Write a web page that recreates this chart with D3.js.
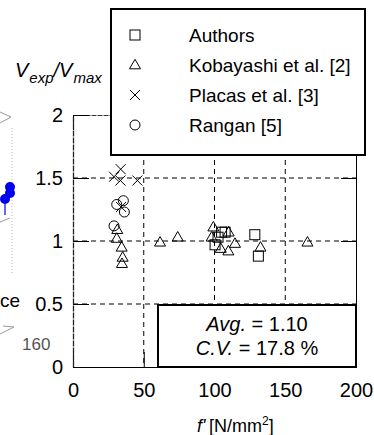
<!DOCTYPE html>
<html><head><meta charset="utf-8">
<script src="https://cdn.jsdelivr.net/npm/d3@7"></script>
<style>
html,body{margin:0;padding:0;background:#fff;}
svg{display:block;font-family:"Liberation Sans",Arial,sans-serif;}
</style></head>
<body>
<svg id="c" width="374" height="435"></svg>
<script>
// ---- data ----
const seriesNames = ["Authors", "Kobayashi et al. [2]", "Placas et al. [3]", "Rangan [5]"];
const seriesShapes = ["square", "triangle", "cross", "circle"];
const authorsF = [100.4, 102.5, 105.0, 107.5, 128.5, 131.0];
const authorsV = [0.97, 1.03, 1.07, 1.07, 1.05, 0.88];
const kobayashiF = [31.3, 30.9, 34.4, 35.1, 34.6, 61.5, 74.0, 99.2, 98.0, 104.4, 109.8, 114.5, 110.0, 132.5, 165.7];
const kobayashiV = [1.09, 1.02, 0.95, 0.87, 0.82, 0.99, 1.03, 1.11, 1.03, 0.94, 0.92, 0.98, 1.07, 0.95, 0.99];
const placasF = [33.7, 29.0, 33.5, 45.5, 34.0];
const placasV = [1.57, 1.51, 1.48, 1.48, 1.27];
const ranganF = [30.9, 35.6, 36.3, 29.0];
const ranganV = [1.29, 1.32, 1.23, 1.12];
const xTicks = [0, 50, 100, 150, 200];
const yTicks = [0, 0.5, 1, 1.5, 2];
const yTickLabels = ["0", "0.5", "1", "1.5", "2"];
const statsAvg = "1.10";
const statsCV = "17.8 %";

const series = [
  {f: authorsF, v: authorsV},
  {f: kobayashiF, v: kobayashiV},
  {f: placasF, v: placasV},
  {f: ranganF, v: ranganV}
];

// ---- layout ----
const svg = d3.select("#c");
const L = 73, R = 356, T = 115, B = 367;
const x = d3.scaleLinear().domain([0, 200]).range([L, R]);
const y = d3.scaleLinear().domain([0, 2]).range([B, T]);

// ---- fragments of neighbouring figure on the left ----
const frag = svg.append("g");
frag.append("line").attr("x1", 12).attr("x2", 12).attr("y1", 128).attr("y2", 275)
  .attr("stroke", "#bbb").attr("stroke-dasharray", "1,2");
frag.append("path").attr("d", "M0,112 L11,117 L0,123").attr("fill", "none").attr("stroke", "#999");
frag.append("path").attr("d", "M0,222 L10,218").attr("fill", "none").attr("stroke", "#999");
frag.append("line").attr("x1", 5).attr("x2", 5).attr("y1", 200).attr("y2", 215)
  .attr("stroke", "#66f").attr("stroke-width", 2);
[[10, 187], [10, 193], [5, 199]].forEach(p => frag.append("circle").attr("cx", p[0]).attr("cy", p[1]).attr("r", 5).attr("fill", "#0000ee"));
frag.append("path").attr("d", "M0,334 L14,327 L3,326").attr("fill", "none").attr("stroke", "#999");
frag.append("text").attr("x", 0).attr("y", 307).attr("font-size", 19).attr("fill", "#000").text("ce");
frag.append("text").attr("x", 22).attr("y", 350).attr("font-size", 17).attr("fill", "#555").text("160");

// ---- grid ----
const grid = svg.append("g");
grid.selectAll(".gy").data(yTicks.filter(t => t > 0 && t < 2)).enter().append("line")
  .attr("x1", L).attr("x2", R).attr("y1", d => y(d)).attr("y2", d => y(d))
  .attr("stroke", "#000").attr("stroke-dasharray", "5,4");
grid.selectAll(".gx").data(xTicks.filter(t => t > 0 && t < 200)).enter().append("line")
  .attr("y1", T).attr("y2", B).attr("x1", d => x(d)).attr("x2", d => x(d))
  .attr("stroke", "#000").attr("stroke-dasharray", "5,4");

// ---- axes ----
const fs = 20;
const xAxis = svg.append("g").attr("transform", `translate(0,${B})`)
  .call(d3.axisBottom(x).tickValues(xTicks).tickFormat(d3.format("d")).tickSizeInner(-15).tickSizeOuter(0).tickPadding(16));
const xAxisTop = svg.append("g").attr("transform", `translate(0,${T})`)
  .call(d3.axisTop(x).tickValues(xTicks).tickSizeInner(-15).tickSizeOuter(0).tickFormat(""));
const yAxis = svg.append("g").attr("transform", `translate(${L},0)`)
  .call(d3.axisLeft(y).tickValues(yTicks).tickFormat((d, i) => yTickLabels[i]).tickSizeInner(-16).tickSizeOuter(0).tickPadding(10));
const yAxisR = svg.append("g").attr("transform", `translate(${R},0)`)
  .call(d3.axisRight(y).tickValues(yTicks).tickSizeInner(-15).tickSizeOuter(0).tickFormat(""));
[xAxis, xAxisTop, yAxis, yAxisR].forEach(g => {
  g.selectAll("text").attr("font-size", fs).attr("font-family", '"Liberation Sans",Arial,sans-serif').attr("fill", "#000");
  g.selectAll("line").attr("stroke", "#000");
  g.select(".domain").attr("stroke", "#000");
});
xAxisTop.select(".domain").attr("stroke", "#333").attr("stroke-dasharray", "5,1");
yAxis.select(".domain").attr("stroke", "#222").attr("stroke-width", 1.3).attr("stroke-dasharray", "6,1");

// ---- markers ----
const S = 10;
function drawMarker(g, shape, cx, cy) {
  if (shape === "square") {
    g.append("rect").attr("x", cx - S / 2).attr("y", cy - S / 2).attr("width", S).attr("height", S)
      .attr("fill", "none").attr("stroke", "#000");
  } else if (shape === "triangle") {
    const h = 9.5, w = 11;
    g.append("path").attr("d", `M${cx},${cy - h * 0.6} L${cx + w / 2},${cy + h * 0.4} L${cx - w / 2},${cy + h * 0.4} Z`)
      .attr("fill", "none").attr("stroke", "#000");
  } else if (shape === "cross") {
    const a = 5;
    g.append("path").attr("d", `M${cx - a},${cy - a} L${cx + a},${cy + a} M${cx - a},${cy + a} L${cx + a},${cy - a}`)
      .attr("fill", "none").attr("stroke", "#000");
  } else {
    g.append("circle").attr("cx", cx).attr("cy", cy).attr("r", 5).attr("fill", "none").attr("stroke", "#000");
  }
}
const pts = svg.append("g");
series.forEach((s, i) => {
  s.f.forEach((fv, j) => drawMarker(pts, seriesShapes[i], x(fv), y(s.v[j])));
});

// ---- stats box ----
const sb = svg.append("g");
sb.append("rect").attr("x", 158).attr("y", y(0.5) + 1).attr("width", R - 158).attr("height", B - y(0.5) - 1)
  .attr("fill", "#fff").attr("stroke", "#000").attr("stroke-width", 2);
const t1 = sb.append("text").attr("x", 257).attr("y", 331).attr("text-anchor", "middle").attr("font-size", 20);
t1.append("tspan").attr("font-style", "italic").text("Avg.");
t1.append("tspan").text(" = " + statsAvg);
const t2 = sb.append("text").attr("x", 257).attr("y", 355).attr("text-anchor", "middle").attr("font-size", 20);
t2.append("tspan").attr("font-style", "italic").text("C.V.");
t2.append("tspan").text(" = " + statsCV);

// ---- legend ----
const lg = svg.append("g");
lg.append("rect").attr("x", 111).attr("y", 9).attr("width", 254).attr("height", 146)
  .attr("fill", "#fff").attr("stroke", "#000").attr("stroke-width", 2);
seriesNames.forEach((n, i) => {
  const yy = 35 + i * 30;
  drawMarker(lg, seriesShapes[i], 135, yy);
  lg.append("text").attr("x", 189).attr("y", yy + 7).attr("font-size", 19).text(n);
});

// ---- axis titles ----
const yt = svg.append("text").attr("x", 15).attr("y", 77).attr("font-style", "italic");
yt.append("tspan").attr("font-size", 20).text("V");
yt.append("tspan").attr("font-size", 15).attr("dy", 6).attr("dx", 1).text("exp");
yt.append("tspan").attr("font-size", 20).attr("dy", -6).text("/V");
yt.append("tspan").attr("font-size", 15).attr("dy", 6).attr("dx", 1).text("max");

const xt = svg.append("text").attr("x", 197).attr("y", 432).attr("font-size", 18);
xt.append("tspan").attr("font-style", "italic").text("f'");
xt.append("tspan").attr("x", 209).text("[N/mm");
xt.append("tspan").attr("font-size", 12).attr("dy", -7).text("2");
xt.append("tspan").attr("dy", 7).text("]");
</script>
</body></html>
